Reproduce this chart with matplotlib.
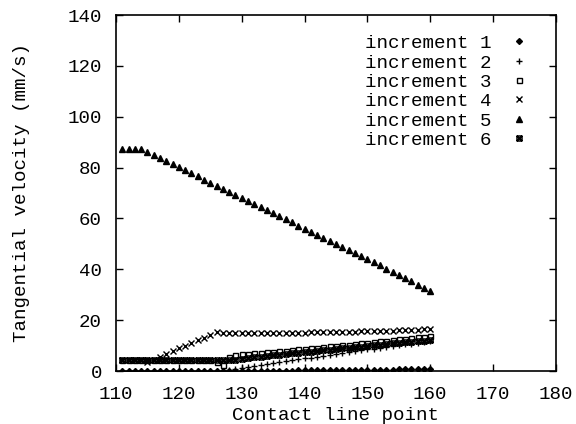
import matplotlib
matplotlib.use("Agg")
import matplotlib.pyplot as plt
from matplotlib.path import Path

points = list(range(111, 161))

inc1 = [0.0]*20 + [0.0, 0.05, 0.05, 0.1, 0.1, 0.1, 0.15, 0.15, 0.2, 0.2,
                   0.25, 0.25, 0.3, 0.3, 0.35, 0.35, 0.4, 0.4, 0.45, 0.45,
                   0.5, 0.5, 0.55, 0.55, 0.6, 0.6, 0.65, 0.65, 0.7, 0.8]
inc2 = [0.0]*17 + [0.3, 0.7, 1.1, 1.5, 1.9, 2.3, 2.7, 3.1, 3.5, 3.9, 4.2, 4.6, 5.0,
                   5.3, 5.7, 6.0, 6.4, 6.7, 7.1, 7.4, 7.8, 8.1, 8.5, 8.8, 9.2, 9.5,
                   9.9, 10.2, 10.5, 10.8, 11.1, 11.4, 11.7, 12.0, 12.3, 12.6][:33]
inc3 = [4.2]*15 + [3.5, 2.5, 5.5, 6.3, 6.6, 6.8, 7.0, 7.2, 7.4, 7.6, 7.8, 8.0, 8.2,
                   8.5, 8.7, 8.9, 9.2, 9.4, 9.7, 9.9, 10.2, 10.4, 10.7, 10.9, 11.2,
                   11.4, 11.7, 11.9, 12.2, 12.4, 12.7, 12.9, 13.2, 13.5, 13.8][:35]
inc4 = [4.3, 4.3, 4.3, 4.2, 3.5, 4.5, 5.6, 6.8, 7.9, 8.9, 10.0, 11.0, 12.0, 13.0,
        14.1, 15.2, 14.8, 14.8, 14.8, 14.8, 14.8, 14.9, 14.9, 14.9, 15.0, 15.0,
        15.0, 15.1, 15.1, 15.1, 15.2, 15.2, 15.3, 15.3, 15.4, 15.4, 15.5, 15.5,
        15.6, 15.7, 15.7, 15.8, 15.9, 15.9, 16.0, 16.1, 16.2, 16.3, 16.4, 16.5]
inc5 = [87.5, 87.5, 87.5, 87.5, 86.2, 85.0, 83.8, 82.6, 81.4, 80.2, 79.0, 77.8,
        76.5, 75.3, 74.1, 72.9, 71.7, 70.5, 69.3, 68.1, 66.9, 65.7, 64.5, 63.2,
        62.0, 60.8, 59.6, 58.4, 57.2, 56.0, 54.8, 53.6, 52.4, 51.2, 49.9, 48.7,
        47.5, 46.3, 45.1, 43.9, 42.7, 41.5, 40.2, 39.0, 37.8, 36.5, 35.2, 34.0,
        32.7, 31.5]
inc6 = [4.2]*18 + [4.5, 4.8, 5.1, 5.4, 5.6, 5.9, 6.1, 6.4, 6.6, 6.9, 7.1, 7.4,
                   7.6, 7.9, 8.1, 8.4, 8.6, 8.9, 9.1, 9.4, 9.6, 9.9, 10.1, 10.4,
                   10.6, 10.9, 11.1, 11.3, 11.5, 11.7, 11.9, 12.1]

labels = ["increment 1", "increment 2", "increment 3",
          "increment 4", "increment 5", "increment 6"]

# boxed-cross marker
verts = [(-1, -1), (1, -1), (1, 1), (-1, 1), (-1, -1),
         (-1, -1), (1, 1), (-1, 1), (1, -1)]
codes = [Path.MOVETO, Path.LINETO, Path.LINETO, Path.LINETO, Path.CLOSEPOLY,
         Path.MOVETO, Path.LINETO, Path.MOVETO, Path.LINETO]
boxx = Path(verts, codes)

plt.rcParams['font.family'] = ['Liberation Mono', 'DejaVu Sans Mono']
FS = 13.8

fig = plt.figure(figsize=(5.76, 4.24), dpi=100)
ax = fig.add_axes([116/576, 1-371/424, 440/576, 356/424])

series = [inc1, inc2, inc3, inc4, inc5, inc6]
styles = [
    dict(marker='D', ms=3.0, mfc='black', mec='black'),
    dict(marker='+', ms=4.5, mec='black', mew=1.0),
    dict(marker='s', ms=3.6, mfc='white', mec='black', mew=1.0),
    dict(marker='x', ms=4.2, mec='black', mew=1.0),
    dict(marker='^', ms=4.9, mfc='black', mec='black'),
    dict(marker=boxx, ms=3.6, mfc='none', mec='black', mew=1.1),
]
for vals, lab, st in zip(series, labels, styles):
    ax.plot(points, vals, linestyle='none', color='black', label=lab, **st)

ax.set_xlim(110, 180)
ax.set_ylim(0, 140)
ax.set_xticks(range(110, 181, 10))
ax.set_yticks(range(0, 141, 20))
ax.tick_params(axis='both', direction='in', length=5, width=1, top=True, right=True,
               labelsize=FS)
ax.tick_params(axis='x', pad=11)
ax.tick_params(axis='y', pad=10)
for s in ax.spines.values():
    s.set_linewidth(1.2)
ax.set_xlabel("Contact line point", fontsize=FS, labelpad=3)
ax.set_ylabel("Tangential velocity (mm/s)", fontsize=FS, labelpad=27)

leg = ax.legend(loc='upper right', bbox_to_anchor=(0.959, 0.966), frameon=False,
                markerfirst=False, fontsize=FS, handlelength=1.2,
                handletextpad=0.85, labelspacing=0.1, borderaxespad=0)

fig.savefig("out.png", dpi=100)
